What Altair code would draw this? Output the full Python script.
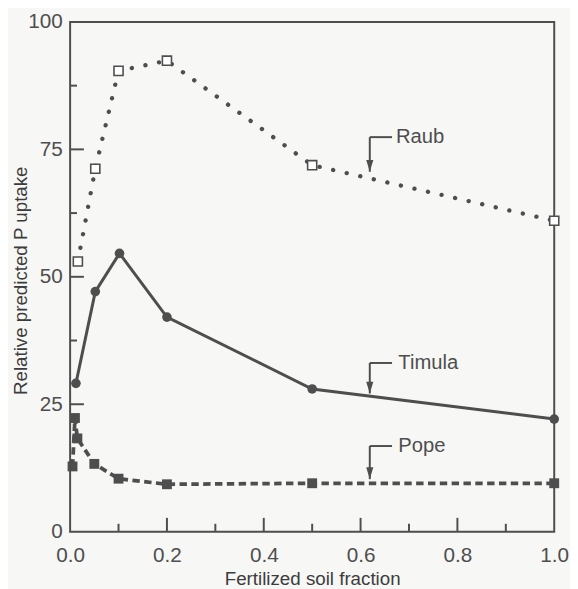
import altair as alt
import pandas as pd

# ---- data ----
raub_x = [0.016, 0.052, 0.1, 0.2, 0.5, 1.0]
raub_y = [53.0, 71.2, 90.4, 92.4, 71.9, 61.0]

timula_x = [0.012, 0.052, 0.102, 0.2, 0.5, 1.0]
timula_y = [29.1, 47.1, 54.6, 42.1, 28.0, 22.1]

pope_x = [0.005, 0.01, 0.015, 0.05, 0.1, 0.2, 0.5, 1.0]
pope_y = [12.8, 22.3, 18.3, 13.3, 10.4, 9.3, 9.5, 9.5]

x_tick_labels = [0.0, 0.2, 0.4, 0.6, 0.8, 1.0]
x_minor = [0.1, 0.3, 0.5, 0.7, 0.9]
x_major = [0.2, 0.4, 0.6, 0.8]
y_tick_labels = [0, 25, 50, 75, 100]
y_minor = [12.5, 37.5, 62.5, 87.5]
y_major = [25, 50, 75]

ann_labels = ["Raub", "Timula", "Pope"]
ann_x = [0.619, 0.619, 0.619]
ann_line_y = [77.4, 33.1, 16.8]
ann_tip_y = [70.6, 27.1, 10.3]
ann_end_x = [0.665, 0.665, 0.665]
ann_text_x = [0.673, 0.678, 0.678]

# ---- styling ----
W, H = 491, 517
INK = "#4e4e4e"
FONT = "Liberation Sans"

raub = pd.DataFrame({"x": raub_x, "y": raub_y})
timula = pd.DataFrame({"x": timula_x, "y": timula_y})
pope = pd.DataFrame({"x": pope_x, "y": pope_y})

xs = alt.Scale(domain=[0, 1], nice=False, zero=False)
ys = alt.Scale(domain=[0, 100], nice=False, zero=False)

X = alt.X("x:Q", scale=xs, title="Fertilized soil fraction",
          axis=alt.Axis(values=x_tick_labels, format=".1f", ticks=False, domain=False,
                        grid=False, labelFontSize=21, labelColor=INK, labelFont=FONT,
                        labelPadding=13, titleFontSize=19, titleColor="#3c3c3c",
                        titleFont=FONT, titleFontWeight="normal", titlePadding=5,
                        labelFlush=False))
Y = alt.Y("y:Q", scale=ys, title="Relative predicted P uptake",
          axis=alt.Axis(values=y_tick_labels, ticks=False, domain=False, grid=False,
                        labelFontSize=21, labelColor=INK, labelFont=FONT, labelPadding=8,
                        titleFontSize=19, titleColor="#3c3c3c", titleFont=FONT,
                        titleFontWeight="normal", titleX=-50, titleY=262,
                        titleAngle=270, titleAlign="center", titleBaseline="middle",
                        labelFlush=False))

raub_line = alt.Chart(raub).mark_line(color=INK, strokeWidth=4.4, strokeCap="round",
                                      strokeDash=[0.1, 14]).encode(x=X, y=Y)
raub_pts = alt.Chart(raub).mark_point(shape="square", size=85, filled=True, fill="white",
                                      stroke=INK, strokeWidth=1.6, opacity=1).encode(x="x:Q", y="y:Q")

tim_line = alt.Chart(timula).mark_line(color=INK, strokeWidth=3).encode(x="x:Q", y="y:Q")
tim_pts = alt.Chart(timula).mark_point(shape="circle", size=95, filled=True, color=INK,
                                       opacity=1).encode(x="x:Q", y="y:Q")

pope_line = alt.Chart(pope).mark_line(color=INK, strokeWidth=3.8,
                                      strokeDash=[7.5, 4.5]).encode(x="x:Q", y="y:Q")
pope_pts = alt.Chart(pope).mark_point(shape="square", size=100, filled=True, color=INK,
                                      opacity=1).encode(x="x:Q", y="y:Q")

# inward ticks
ymaj = alt.Chart(pd.DataFrame({"y": y_major})).mark_rule(color=INK, strokeWidth=2).encode(
    y="y:Q", x=alt.value(0), x2=alt.value(14))
ymin = alt.Chart(pd.DataFrame({"y": y_minor})).mark_rule(color=INK, strokeWidth=2).encode(
    y="y:Q", x=alt.value(0), x2=alt.value(7))
xmaj = alt.Chart(pd.DataFrame({"x": x_major})).mark_rule(color=INK, strokeWidth=2).encode(
    x="x:Q", y=alt.value(H), y2=alt.value(H - 14))
xmin = alt.Chart(pd.DataFrame({"x": x_minor})).mark_rule(color=INK, strokeWidth=2).encode(
    x="x:Q", y=alt.value(H), y2=alt.value(H - 8))

ann = pd.DataFrame({"label": ann_labels, "x": ann_x, "y": ann_line_y, "y2": ann_tip_y,
                    "xe": ann_end_x, "xt": ann_text_x})
ann_v = alt.Chart(ann).mark_rule(color=INK, strokeWidth=2).encode(x="x:Q", y="y:Q", y2="y2:Q")
ann_h = alt.Chart(ann).mark_rule(color=INK, strokeWidth=2).encode(x="x:Q", x2="xe:Q", y="y:Q")
ann_head = alt.Chart(ann).mark_point(shape="M-0.3,-1L0.3,-1L0,0Z", size=576, filled=True,
                                     color=INK, opacity=1).encode(x="x:Q", y="y2:Q")
ann_text = alt.Chart(ann).mark_text(align="left", baseline="middle", fontSize=20.5, font=FONT,
                                    color=INK).encode(x="xt:Q", y="y:Q", text="label:N")

chart = alt.layer(
    raub_line, tim_line, pope_line, raub_pts, tim_pts, pope_pts,
    ymaj, ymin, xmaj, xmin, ann_v, ann_h, ann_head, ann_text
).properties(
    width=W, height=H,
    autosize=alt.AutoSizeParams(type="none"),
    padding={"left": 63, "top": 10, "right": 16, "bottom": 54},
    background="#f7f7f5",
).configure_view(stroke=INK, strokeWidth=2)

chart.save("out.html", embed_options={"renderer": "svg", "actions": False})
